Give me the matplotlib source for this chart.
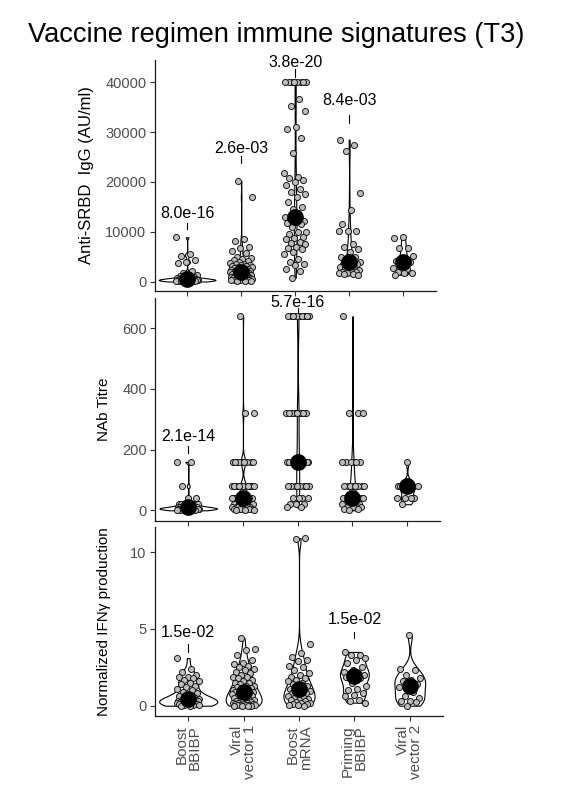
import numpy as np
import matplotlib
matplotlib.use("Agg")
import matplotlib.pyplot as plt

plt.rcParams['font.family'] = ['Liberation Sans', 'DejaVu Sans']

# ---------------- data ----------------
categories = ["Boost\nBBIBP", "Viral\nvector 1", "Boost\nmRNA", "Priming\nBBIBP", "Viral\nvector 2"]

igg_boost_bbibp = [8900, 5550, 5150, 4350, 3880, 3800, 2100, 1700, 1400, 1200, 1050, 900, 800, 700,
                   650, 600, 550, 500, 480, 460, 440, 420, 400, 380, 360, 340, 320, 300, 280, 250,
                   220, 200, 150, 120, 100, 80, 60, 40]
igg_viral_vector1 = [20200, 16900, 8500, 8200, 7000, 6700, 6200, 5800, 5000, 4800, 4500, 4300, 4100,
                     4000, 3800, 3600, 3500, 3400, 3300, 3200, 3100, 3000, 2900, 2800, 2700, 2600,
                     2500, 2400, 2300, 2200, 2100, 2050, 2000, 1950, 1900, 1850, 1800, 1750, 1700,
                     1600, 1500, 1450, 1400, 1300, 1250, 1200, 1100, 1000, 950, 900, 850, 800, 750,
                     700, 650, 600, 500, 450, 400, 350, 300, 250, 200, 150, 100]
igg_boost_mrna = [40000, 40000, 40000, 40000, 40000, 40000, 40000, 40000, 36700, 35200, 34300, 31000,
                  30700, 28900, 25900, 21800, 21000, 20800, 20500, 20000, 19300, 18500, 18000, 17500,
                  17000, 16000, 15000, 14500, 13000, 12700, 12500, 12200, 12000, 11800, 11500, 11000,
                  10000, 10000, 9500, 9000, 8700, 8600, 8000, 7800, 7500, 7000, 6800, 6500, 6000,
                  5500, 4500, 4000, 3500, 3300, 2500, 2200, 800]
igg_priming_bbibp = [28500, 27500, 26200, 17800, 14300, 11500, 10200, 10200, 10200, 7500, 7000, 6500,
                     6000, 5000, 5000, 4500, 4000, 3800, 3600, 3500, 3300, 3000, 2900, 2700, 2400,
                     2200, 2000, 1900, 1800, 1700, 1500, 1500, 1300]
igg_viral_vector2 = [9000, 8800, 6800, 6700, 5200, 4400, 4200, 4000, 3500, 2800, 2500, 1900, 1800,
                     1800, 1400]

nab_boost_bbibp = [160, 160, 80, 40, 40, 20, 20, 20, 20, 20, 20, 10, 10, 10, 10, 10, 10, 10, 10,
                   5, 5, 5, 5, 5, 5, 5, 5, 5, 5, 5, 5, 0, 0, 0, 0, 0]
nab_viral_vector1 = [640, 320, 320] + [160] * 9 + [80] * 11 + [40] * 14 + [20] * 8 + [10] * 6 + [5] * 5 + [0] * 3
nab_boost_mrna = [640] * 11 + [320] * 11 + [160] * 12 + [80] * 8 + [40] * 4 + [20] * 3 + [10] * 2
nab_priming_bbibp = [640] + [320] * 3 + [160] * 6 + [80] * 8 + [40] * 7 + [20] * 5 + [10] * 4 + [5] * 2 + [0]
nab_viral_vector2 = [160] + [80] * 6 + [40] * 4 + [20]

ifn_boost_bbibp = [3.1, 2.4, 2.2, 2.0, 1.9, 1.9, 1.8, 1.7, 1.6, 1.5, 1.4, 1.3, 1.2, 1.1, 1.0, 0.9,
                   0.8, 0.7, 0.6, 0.55, 0.5, 0.45, 0.42, 0.4, 0.38, 0.35, 0.32, 0.3, 0.3, 0.28, 0.25,
                   0.22, 0.2, 0.2, 0.18, 0.15, 0.12, 0.1, 0.1, 0.08, 0.05, 0.05, 0.02, 0.0, 0.0]
ifn_viral_vector1 = [4.4, 3.7, 3.6, 3.3, 3.0, 2.8, 2.7, 2.6, 2.5, 2.4, 2.3, 2.2, 2.1, 2.0, 1.9, 1.85,
                     1.8, 1.7, 1.6, 1.5, 1.45, 1.4, 1.3, 1.25, 1.2, 1.15, 1.1, 1.05, 1.0, 0.95, 0.92,
                     0.9, 0.88, 0.85, 0.8, 0.75, 0.7, 0.65, 0.6, 0.55, 0.5, 0.45, 0.4, 0.35, 0.3,
                     0.28, 0.25, 0.22, 0.2, 0.18, 0.15, 0.12, 0.1, 0.08, 0.06, 0.05, 0.04, 0.03,
                     0.02, 0.01, 0.0, 0.0, 0.0]
ifn_boost_mrna = [10.9, 10.85, 4.0, 3.4, 3.2, 3.0, 2.9, 2.6, 2.5, 2.3, 2.1, 2.0, 1.9, 1.8, 1.7, 1.6,
                  1.5, 1.4, 1.3, 1.2, 1.1, 1.06, 1.0, 0.95, 0.9, 0.85, 0.8, 0.7, 0.6, 0.55, 0.5, 0.45,
                  0.4, 0.35, 0.3, 0.25, 0.2, 0.15, 0.1, 0.08, 0.05, 0.02, 0.0]
ifn_priming_bbibp = [3.5, 3.3, 3.3, 3.1, 3.0, 2.8, 2.5, 2.3, 2.2, 2.1, 2.05, 2.0, 1.95, 1.9, 1.8, 1.5,
                     1.3, 1.1, 1.0, 0.8, 0.7, 0.6, 0.4, 0.3, 0.2]
ifn_viral_vector2 = [4.6, 2.4, 2.3, 2.0, 1.8, 1.7, 1.6, 1.4, 1.3, 1.2, 0.9, 0.6, 0.5, 0.3, 0.3, 0.25, 0.0]

igg_groups = [igg_boost_bbibp, igg_viral_vector1, igg_boost_mrna, igg_priming_bbibp, igg_viral_vector2]
nab_groups = [nab_boost_bbibp, nab_viral_vector1, nab_boost_mrna, nab_priming_bbibp, nab_viral_vector2]
ifn_groups = [ifn_boost_bbibp, ifn_viral_vector1, ifn_boost_mrna, ifn_priming_bbibp, ifn_viral_vector2]

igg_pvalues = ["8.0e-16", "2.6e-03", "3.8e-20", "8.4e-03", None]
nab_pvalues = ["2.1e-14", None, "5.7e-16", None, None]
ifn_pvalues = ["1.5e-02", None, None, "1.5e-02", None]

# ---------------- layout / style ----------------
igg_label_y = [13650, 26630, 44030, 36330, None]
igg_bar = [(11840, 10640), (25230, 23760), (42630, 41140), (33460, 31910), None]
nab_label_y = [243, None, 686, None, None]
nab_bar = [(212, 190), None, (667, 650), None, None]
ifn_label_y = [4.78, None, None, 5.58, None]
ifn_bar = [(4.01, 3.51), None, None, (4.81, 4.42), None]

W, H = 587, 811
fig = plt.figure(figsize=(W / 100, H / 100), dpi=100)


def px_axes(left, right, top, bottom):
    return fig.add_axes([left / W, 1 - bottom / H, (right - left) / W, (bottom - top) / H])


def nrd0(x):
    n = len(x)
    sd = np.std(x, ddof=1)
    q75, q25 = np.percentile(x, [75, 25])
    lo = min(sd, (q75 - q25) / 1.34)
    if lo <= 0:
        lo = sd if sd > 0 else 1.0
    return 0.9 * lo * n ** (-0.2)


def violins(ax, groups, width=1.05):
    curves = []
    for g in groups:
        x = np.asarray(g, float)
        bw = nrd0(x)
        grid = np.linspace(x.min(), x.max(), 512)
        d = np.exp(-0.5 * ((grid[:, None] - x[None, :]) / bw) ** 2).sum(axis=1) / (len(x) * bw * np.sqrt(2 * np.pi))
        curves.append((grid, d))
    dmax = max(d.max() for _, d in curves)
    for i, (grid, d) in enumerate(curves):
        hw = d / dmax * width / 2
        ax.fill_betweenx(grid, i + 1 - hw, i + 1 + hw, facecolor='white', edgecolor='black',
                         linewidth=0.8, zorder=1)


def panel(ax, groups, pvals, label_y, bars, ylim, yticks, ylabel, ylabel_x, ylabel_size, show_x):
    violins(ax, groups)
    for i, g in enumerate(groups):
        vals = np.asarray(g, float)
        n = len(vals)
        jit = ((np.arange(n) * 0.6180339887 + 0.37 * i) % 1.0 - 0.5) * 0.42
        ax.scatter(i + 1 + jit, vals, s=19, facecolor='#bdbdbd', edgecolor='#1a1a1a',
                   linewidth=0.7, zorder=2)
        ax.scatter([i + 1], [np.median(vals)], s=145, color='black', zorder=3, linewidth=0)
        if pvals[i] is not None:
            ax.text(i + 1, label_y[i], pvals[i], ha='center', va='center', fontsize=11.5,
                    color='black', zorder=4)
            ax.plot([i + 1, i + 1], bars[i], color='black', linewidth=0.8, zorder=4)
    ax.set_xlim(0.4, 5.6)
    ax.set_ylim(*ylim)
    ax.set_yticks(yticks)
    ax.set_xticks(range(1, 6))
    if show_x:
        ax.set_xticklabels(categories, rotation=90, ha='center', va='top',
                           multialignment='right', linespacing=0.95, fontsize=11, color='#4d4d4d')
    else:
        ax.set_xticklabels([])
    for s in ['top', 'right']:
        ax.spines[s].set_visible(False)
    for s in ['left', 'bottom']:
        ax.spines[s].set_linewidth(0.9)
        ax.spines[s].set_color('#1a1a1a')
    ax.tick_params(axis='both', length=3.5, width=0.8, color='#333333', labelcolor='#4d4d4d',
                   labelsize=10.5, pad=2.5)
    ax.tick_params(axis='x', labelsize=11, pad=3)
    ax.set_ylabel(ylabel, fontsize=ylabel_size, color='black')
    ax.yaxis.set_label_coords(ylabel_x, 0.5)


ax1 = px_axes(154.7, 435.6, 60, 291)
panel(ax1, igg_groups, igg_pvalues, igg_label_y, igg_bar, (-1866, 44473),
      [0, 10000, 20000, 30000, 40000], "Anti-SRBD  IgG (AU/ml)", (93.6 - 154.7) / 280.9, 12, False)

ax2 = px_axes(155.4, 440, 298.3, 520.7)
panel(ax2, nab_groups, nab_pvalues, nab_label_y, nab_bar, (-34.3, 699),
      [0, 200, 400, 600], "NAb Titre", (111.2 - 155.4) / 284.6, 11, False)

ax3 = px_axes(155, 443, 527.3, 716)
panel(ax3, ifn_groups, ifn_pvalues, ifn_label_y, ifn_bar, (-0.67, 11.61),
      [0, 5, 10], "Normalized IFNγ production", (111.2 - 155) / 288, 11, True)

fig.text(28 / W, 1 - 41.7 / H, "Vaccine regimen immune signatures (T3)", ha='left',
         va='baseline', fontsize=19.6, color='black')

fig.savefig("out.png", dpi=100)
